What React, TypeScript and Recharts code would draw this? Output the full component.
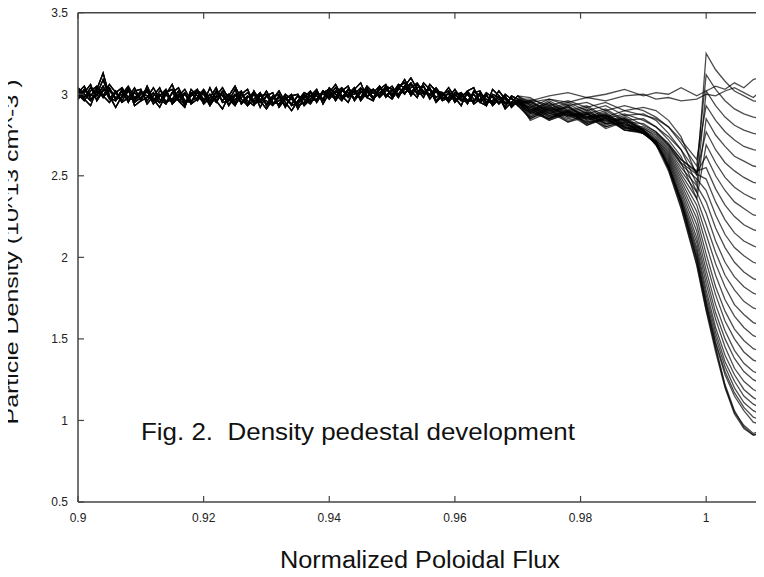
import React from "react";
import { LineChart, Line, XAxis, YAxis } from "recharts";

// x grid of the quiet core region (0.900 .. 0.970)
const FLUX_CORE = [
  0.9, 0.901, 0.902, 0.903, 0.904, 0.905, 0.906, 0.907, 0.908, 0.909,
  0.91, 0.911, 0.912, 0.913, 0.914, 0.915, 0.916, 0.917, 0.918, 0.919,
  0.92, 0.921, 0.922, 0.923, 0.924, 0.925, 0.926, 0.927, 0.928, 0.929,
  0.93, 0.931, 0.932, 0.933, 0.934, 0.935, 0.936, 0.937, 0.938, 0.939,
  0.94, 0.941, 0.942, 0.943, 0.944, 0.945, 0.946, 0.947, 0.948, 0.949,
  0.95, 0.951, 0.952, 0.953, 0.954, 0.955, 0.956, 0.957, 0.958, 0.959,
  0.96, 0.961, 0.962, 0.963, 0.964, 0.965, 0.966, 0.967, 0.968, 0.969,
  0.97,
];

// x grid of the edge / pedestal region
const FLUX_EDGE = [
  0.972, 0.975, 0.978, 0.981, 0.984, 0.987, 0.99, 0.992, 0.994, 0.996,
  0.9985, 1.0, 1.0015, 1.003, 1.0045, 1.006, 1.0075, 1.009, 1.0105,
];

// noisy core profiles (shared by the time slices)
const CORE_A = [
  3.03, 2.98, 3.04, 2.99, 3.05, 2.97, 3.02, 2.96, 3.02, 2.97,
  3.02, 2.96, 3.01, 2.95, 3.02, 2.96, 3.0, 2.95, 3.01, 2.96,
  3.01, 2.95, 3.02, 2.96, 3.0, 2.95, 3.01, 2.94, 3.0, 2.95,
  2.99, 2.94, 2.99, 2.93, 2.98, 2.94, 2.99, 2.95, 3.01, 2.97,
  3.02, 2.98, 3.03, 2.98, 3.02, 2.97, 3.03, 2.98, 3.04, 2.99,
  3.03, 3.0, 3.05, 3.01, 3.06, 3.0, 3.03, 2.98, 3.01, 2.97,
  3.0, 2.96, 3.0, 2.95, 3.01, 2.95, 2.99, 2.94, 2.98, 2.94,
  2.96,
];
const CORE_B = [
  2.98, 3.03, 2.99, 3.04, 2.98, 3.03, 2.97, 3.02, 2.96, 3.01,
  2.97, 3.02, 2.96, 3.0, 2.95, 3.01, 2.96, 3.0, 2.95, 3.01,
  2.96, 3.0, 2.95, 3.01, 2.96, 3.0, 2.95, 2.99, 2.95, 3.0,
  2.94, 2.99, 2.93, 2.98, 2.94, 2.99, 2.94, 2.99, 2.96, 3.02,
  2.97, 3.02, 2.98, 3.03, 2.97, 3.02, 2.98, 3.03, 2.99, 3.04,
  2.99, 3.04, 3.0, 3.06, 3.01, 3.05, 2.99, 3.02, 2.97, 3.01,
  2.96, 3.0, 2.96, 3.0, 2.95, 2.99, 2.95, 2.99, 2.94, 2.98,
  2.93,
];
const CORE_C = [
  3.01, 3.05, 2.97, 3.0, 3.09, 2.98, 2.96, 3.03, 2.95, 3.02,
  3.03, 2.94, 2.99, 3.04, 2.95, 2.97, 3.02, 2.93, 3.0, 3.03,
  2.94, 2.98, 3.04, 2.95, 2.96, 3.03, 2.94, 2.98, 3.01, 2.92,
  2.99, 3.01, 2.92, 2.97, 3.0, 2.91, 2.98, 3.02, 2.95, 3.01,
  3.03, 2.96, 3.02, 3.05, 2.96, 3.01, 3.04, 2.97, 3.03, 3.06,
  2.98, 3.05, 3.07, 2.99, 3.04, 3.05, 2.97, 3.02, 3.01, 2.95,
  3.01, 3.0, 2.94, 3.02, 2.99, 2.93, 3.0, 2.98, 2.92, 2.99,
  2.97,
];
const CORE_D = [
  2.97, 3.01, 3.06, 2.96, 3.02, 3.04, 2.97, 2.98, 3.03, 2.95,
  2.98, 3.02, 2.94, 2.99, 3.03, 2.94, 2.98, 3.01, 2.94, 2.97,
  3.02, 2.94, 2.98, 3.01, 2.93, 2.99, 3.02, 2.93, 2.97, 3.01,
  2.93, 2.98, 3.0, 2.92, 2.99, 3.0, 2.93, 2.97, 3.02, 2.96,
  2.99, 3.04, 2.97, 3.0, 3.04, 2.96, 3.01, 3.03, 2.98, 3.02,
  3.05, 2.99, 3.03, 3.07, 3.0, 3.01, 3.04, 2.96, 3.0, 3.02,
  2.95, 2.99, 3.01, 2.94, 2.97, 3.0, 2.93, 2.97, 2.99, 2.92,
  2.96,
];
const CORE_E = [
  3.02, 2.97, 2.93, 3.03, 3.13, 2.99, 2.92, 2.99, 3.04, 2.93,
  2.96, 3.05, 2.97, 2.92, 3.0, 3.06, 2.96, 2.92, 3.03, 2.99,
  2.95, 3.04, 2.96, 2.91, 2.99, 3.05, 2.97, 2.93, 3.02, 2.96,
  2.91, 2.97, 3.02, 2.95, 2.9, 2.96, 3.01, 2.99, 3.03, 2.94,
  3.01, 3.06, 2.99, 2.95, 3.03, 3.07, 2.98, 2.96, 3.05, 3.0,
  2.97, 3.03, 3.09, 3.02, 2.98, 3.07, 3.03, 2.95, 2.99, 3.04,
  2.98, 2.93, 3.02, 3.04, 2.95, 2.93, 3.03, 2.99, 2.91, 2.95,
  2.99,
];
const CORE_F = [
  3.04, 3.0, 2.96, 3.02, 2.99, 3.06, 3.01, 2.95, 2.98, 3.04,
  2.96, 2.98, 3.04, 2.97, 2.94, 3.01, 3.04, 2.96, 2.95, 3.02,
  3.0, 2.93, 2.99, 3.04, 2.97, 2.93, 3.0, 3.03, 2.94, 2.96,
  3.02, 2.95, 2.94, 3.0, 2.97, 2.93, 2.95, 3.01, 2.99, 2.97,
  3.04, 3.0, 2.96, 3.03, 3.01, 2.98, 3.05, 3.01, 2.99, 3.05,
  3.03, 2.98, 3.05, 3.1, 3.03, 2.98, 3.06, 3.02, 2.96, 2.98,
  3.03, 2.97, 2.95, 3.01, 3.02, 2.95, 2.96, 3.02, 2.97, 2.93,
  2.95,
];
const CORE_G = [
  3.0, 2.96, 3.02, 3.05, 2.99, 2.95, 3.01, 3.04, 2.98, 2.96,
  3.0, 3.03, 2.97, 2.95, 3.01, 3.03, 2.97, 2.94, 2.99, 3.02,
  2.97, 2.96, 3.01, 2.99, 2.94, 2.97, 3.0, 2.96, 2.93, 2.99,
  3.0, 2.94, 2.96, 2.99, 2.93, 2.95, 3.0, 2.96, 2.97, 3.02,
  3.0, 2.97, 3.02, 3.01, 2.97, 3.03, 3.02, 2.97, 3.01, 3.03,
  3.0, 3.06, 3.04, 3.0, 3.06, 3.02, 2.99, 3.03, 2.98, 2.96,
  2.99, 3.01, 2.96, 2.96, 3.0, 2.97, 2.94, 2.99, 2.95, 2.95,
  2.94,
];
const CORE_H = [
  2.99, 3.02, 3.0, 2.97, 3.03, 3.02, 2.98, 3.0, 3.05, 2.98,
  3.01, 2.99, 2.96, 3.02, 3.0, 2.95, 2.99, 3.03, 2.96, 2.98,
  3.03, 2.97, 2.96, 3.02, 2.99, 2.94, 2.98, 3.01, 2.96, 2.97,
  2.96, 2.93, 2.98, 2.97, 2.94, 2.99, 2.97, 2.94, 3.0, 3.0,
  2.98, 3.01, 3.04, 2.99, 3.0, 3.04, 2.99, 3.01, 3.05, 2.98,
  3.02, 3.04, 3.01, 3.04, 3.07, 3.01, 3.0, 3.04, 2.99, 3.0,
  2.97, 2.98, 3.02, 2.97, 2.96, 3.01, 2.98, 2.95, 3.0, 2.97,
  2.96,
];

// edge profiles, one per time slice, early -> late
const EDGE_00 = [2.96, 2.99, 3.01, 2.98, 3.0, 3.03, 2.99, 3.01, 3.0, 3.04, 2.99, 3.02, 3.05, 3.03, 3.07, 3.04, 3.09, 3.11, 3.1];
const EDGE_01 = [2.95, 2.97, 2.95, 2.98, 2.96, 2.99, 3.0, 2.97, 2.98, 2.96, 2.97, 3.0, 2.99, 3.02, 3.04, 3.01, 2.98, 3.03, 3.06];
const EDGE_02 = [2.97, 2.93, 2.96, 2.92, 2.95, 2.9, 2.92, 2.9, 2.84, 2.74, 2.5, 3.25, 3.15, 3.08, 3.02, 2.99, 2.96, 2.95, 2.97];
const EDGE_03 = [2.92, 2.97, 2.93, 2.95, 2.9, 2.93, 2.9, 2.86, 2.8, 2.7, 2.56, 3.12, 3.03, 2.96, 2.91, 2.88, 2.86, 2.85, 2.84];
const EDGE_04 = [2.98, 2.91, 2.95, 2.9, 2.93, 2.87, 2.88, 2.84, 2.76, 2.66, 2.45, 3.02, 2.93, 2.86, 2.81, 2.78, 2.76, 2.75, 2.73];
const EDGE_05 = [2.9, 2.96, 2.9, 2.93, 2.86, 2.9, 2.87, 2.85, 2.8, 2.72, 2.6, 2.93, 2.84, 2.77, 2.72, 2.68, 2.66, 2.65, 2.63];
const EDGE_06 = [2.96, 2.9, 2.94, 2.88, 2.91, 2.84, 2.85, 2.8, 2.72, 2.62, 2.4, 2.85, 2.75, 2.68, 2.62, 2.59, 2.56, 2.55, 2.53];
const EDGE_07 = [2.9, 2.95, 2.89, 2.92, 2.85, 2.88, 2.84, 2.8, 2.74, 2.66, 2.52, 2.77, 2.66, 2.58, 2.53, 2.49, 2.46, 2.45, 2.43];
const EDGE_08 = [2.95, 2.89, 2.93, 2.86, 2.9, 2.83, 2.82, 2.77, 2.69, 2.58, 2.36, 2.69, 2.58, 2.49, 2.43, 2.39, 2.36, 2.35, 2.33];
const EDGE_09 = [2.89, 2.94, 2.88, 2.91, 2.83, 2.87, 2.81, 2.77, 2.7, 2.6, 2.52, 2.62, 2.5, 2.41, 2.34, 2.3, 2.26, 2.25, 2.23];
const EDGE_10 = [2.94, 2.88, 2.92, 2.85, 2.89, 2.81, 2.8, 2.76, 2.69, 2.6, 2.53, 2.55, 2.42, 2.32, 2.25, 2.2, 2.17, 2.15, 2.13];
const EDGE_11 = [2.88, 2.93, 2.87, 2.9, 2.82, 2.86, 2.79, 2.75, 2.68, 2.58, 2.51, 2.48, 2.34, 2.23, 2.15, 2.1, 2.07, 2.05, 2.03];
const EDGE_12 = [2.93, 2.87, 2.91, 2.84, 2.88, 2.8, 2.79, 2.74, 2.67, 2.57, 2.48, 2.41, 2.26, 2.14, 2.06, 2.01, 1.97, 1.95, 1.93];
const EDGE_13 = [2.87, 2.92, 2.86, 2.89, 2.81, 2.85, 2.78, 2.73, 2.66, 2.55, 2.44, 2.34, 2.18, 2.06, 1.97, 1.91, 1.87, 1.85, 1.83];
const EDGE_14 = [2.92, 2.86, 2.9, 2.83, 2.87, 2.79, 2.78, 2.72, 2.65, 2.53, 2.4, 2.27, 2.1, 1.97, 1.88, 1.82, 1.78, 1.76, 1.74];
const EDGE_15 = [2.86, 2.91, 2.85, 2.88, 2.8, 2.84, 2.77, 2.72, 2.64, 2.51, 2.36, 2.2, 2.03, 1.89, 1.8, 1.73, 1.69, 1.67, 1.65];
const EDGE_16 = [2.91, 2.85, 2.89, 2.82, 2.86, 2.78, 2.77, 2.71, 2.63, 2.49, 2.32, 2.14, 1.96, 1.82, 1.71, 1.65, 1.6, 1.58, 1.56];
const EDGE_17 = [2.85, 2.9, 2.84, 2.87, 2.79, 2.83, 2.76, 2.71, 2.62, 2.47, 2.28, 2.08, 1.89, 1.74, 1.64, 1.57, 1.52, 1.5, 1.48];
const EDGE_18 = [2.9, 2.84, 2.88, 2.81, 2.85, 2.78, 2.76, 2.7, 2.61, 2.45, 2.24, 2.02, 1.82, 1.67, 1.56, 1.49, 1.44, 1.42, 1.41];
const EDGE_19 = [2.84, 2.89, 2.83, 2.86, 2.8, 2.83, 2.76, 2.7, 2.6, 2.43, 2.2, 1.97, 1.77, 1.61, 1.5, 1.42, 1.37, 1.35, 1.34];
const EDGE_20 = [2.89, 2.85, 2.9, 2.81, 2.86, 2.78, 2.77, 2.69, 2.59, 2.41, 2.16, 1.92, 1.71, 1.55, 1.43, 1.35, 1.3, 1.28, 1.27];
const EDGE_21 = [2.92, 2.84, 2.89, 2.83, 2.84, 2.8, 2.76, 2.7, 2.58, 2.39, 2.12, 1.88, 1.66, 1.5, 1.38, 1.3, 1.25, 1.22, 1.22];
const EDGE_22 = [2.85, 2.91, 2.83, 2.88, 2.82, 2.82, 2.78, 2.69, 2.57, 2.37, 2.09, 1.84, 1.62, 1.45, 1.32, 1.24, 1.19, 1.16, 1.17];
const EDGE_23 = [2.91, 2.85, 2.9, 2.82, 2.85, 2.79, 2.77, 2.7, 2.56, 2.36, 2.06, 1.8, 1.57, 1.4, 1.28, 1.19, 1.14, 1.11, 1.12];
const EDGE_24 = [2.93, 2.86, 2.88, 2.85, 2.87, 2.8, 2.76, 2.71, 2.55, 2.35, 2.04, 1.77, 1.54, 1.36, 1.24, 1.15, 1.1, 1.07, 1.09];
const EDGE_25 = [2.86, 2.92, 2.87, 2.88, 2.82, 2.85, 2.78, 2.7, 2.56, 2.34, 2.02, 1.74, 1.51, 1.33, 1.2, 1.11, 1.06, 1.03, 1.05];
const EDGE_26 = [2.94, 2.87, 2.89, 2.86, 2.87, 2.8, 2.77, 2.71, 2.55, 2.34, 2.0, 1.72, 1.48, 1.3, 1.17, 1.08, 1.02, 1.0, 1.02];
const EDGE_27 = [2.88, 2.93, 2.86, 2.88, 2.84, 2.85, 2.78, 2.7, 2.56, 2.33, 1.99, 1.71, 1.47, 1.28, 1.15, 1.06, 0.99, 0.97, 0.99];
const EDGE_28 = [2.95, 2.9, 2.92, 2.86, 2.88, 2.81, 2.77, 2.7, 2.55, 2.33, 1.98, 1.7, 1.45, 1.22, 1.06, 0.96, 0.91, 0.93, 0.97];
const EDGE_29 = [2.89, 2.95, 2.87, 2.89, 2.85, 2.84, 2.78, 2.69, 2.53, 2.3, 1.95, 1.67, 1.42, 1.2, 1.04, 0.95, 0.91, 0.92, 0.96];
const EDGE_30 = [2.96, 2.88, 2.93, 2.84, 2.87, 2.82, 2.76, 2.71, 2.54, 2.31, 1.96, 1.68, 1.44, 1.21, 1.05, 0.97, 0.92, 0.94, 0.98];

const CORES = [CORE_A, CORE_B, CORE_C, CORE_D, CORE_E, CORE_F, CORE_G, CORE_H];
const EDGES = [
  EDGE_00, EDGE_01, EDGE_02, EDGE_03, EDGE_04, EDGE_05, EDGE_06, EDGE_07,
  EDGE_08, EDGE_09, EDGE_10, EDGE_11, EDGE_12, EDGE_13, EDGE_14, EDGE_15,
  EDGE_16, EDGE_17, EDGE_18, EDGE_19, EDGE_20, EDGE_21, EDGE_22, EDGE_23,
  EDGE_24, EDGE_25, EDGE_26, EDGE_27, EDGE_28, EDGE_29, EDGE_30,
];

const X_TICKS = [0.9, 0.92, 0.94, 0.96, 0.98, 1];
const Y_TICKS = [0.5, 1, 1.5, 2, 2.5, 3, 3.5];

const FONT = "'Liberation Sans', Arial, Helvetica, sans-serif";
const AXIS = "#444";

const series = EDGES.map((edge, k) => {
  const core = CORES[k % CORES.length];
  return [
    ...FLUX_CORE.map((x, i) => ({ x, y: core[i] })),
    ...FLUX_EDGE.map((x, i) => ({ x, y: edge[i] })),
  ];
});

export default function App() {
  return (
    // pulled over the body margin so the page corner is (0,0)
    <div style={{ position: "relative", width: 764, height: 577, margin: "-8px 0 0 -8px", overflow: "hidden", background: "#fff" }}>
      <LineChart width={778} height={577} margin={{ top: 11.7, right: 8, bottom: 45, left: 8 }}>
        <XAxis
          xAxisId="bottom"
          type="number"
          dataKey="x"
          domain={[0.9, 1.01]}
          allowDataOverflow
          ticks={X_TICKS}
          height={30}
          tickSize={-6}
          tickMargin={17}
          axisLine={{ stroke: AXIS, strokeWidth: 1.5 }}
          tickLine={{ stroke: AXIS, strokeWidth: 1.2 }}
          tick={{ fill: "#222", fontSize: 12, fontFamily: FONT }}
        />
        <XAxis
          xAxisId="top"
          orientation="top"
          type="number"
          dataKey="x"
          domain={[0.9, 1.01]}
          allowDataOverflow
          ticks={X_TICKS}
          height={1}
          tickSize={-6}
          tickFormatter={() => ""}
          axisLine={{ stroke: AXIS, strokeWidth: 1.5 }}
          tickLine={{ stroke: AXIS, strokeWidth: 1.2 }}
        />
        <YAxis
          yAxisId="left"
          type="number"
          domain={[0.5, 3.5]}
          allowDataOverflow
          ticks={Y_TICKS}
          width={70}
          tickSize={-6}
          tickMargin={16}
          axisLine={{ stroke: AXIS, strokeWidth: 1.5 }}
          tickLine={{ stroke: AXIS, strokeWidth: 1.2 }}
          tick={{ fill: "#222", fontSize: 12, fontFamily: FONT }}
        />
        <YAxis
          yAxisId="right"
          orientation="right"
          type="number"
          domain={[0.5, 3.5]}
          allowDataOverflow
          ticks={Y_TICKS}
          width={1}
          tickSize={-6}
          tickFormatter={() => ""}
          axisLine={{ stroke: AXIS, strokeWidth: 1.5 }}
          tickLine={{ stroke: AXIS, strokeWidth: 1.2 }}
        />
        {series.map((data, k) => (
          <Line
            key={k}
            xAxisId="bottom"
            yAxisId="left"
            data={data}
            dataKey="y"
            type="linear"
            stroke="#000"
            strokeOpacity={0.7}
            strokeWidth={1.3}
            dot={false}
            activeDot={false}
            isAnimationActive={false}
          />
        ))}
      </LineChart>
      <svg
        width={764}
        height={577}
        style={{ position: "absolute", left: 0, top: 0, pointerEvents: "none" }}
      >
        <text
          transform="translate(17.5,252) rotate(-90)"
          textAnchor="middle"
          fontFamily={FONT}
          fontSize={18.5}
          fill="#111"
          textLength={345}
          lengthAdjust="spacingAndGlyphs"
        >
          Particle Density (10^13 cm^-3 )
        </text>
        <text
          x={420}
          y={568}
          textAnchor="middle"
          fontFamily={FONT}
          fontSize={23}
          fill="#111"
          textLength={280}
          lengthAdjust="spacingAndGlyphs"
        >
          Normalized Poloidal Flux
        </text>
        <text
          x={141}
          y={440}
          fontFamily={FONT}
          fontSize={24.5}
          fill="#111"
          textLength={434}
          lengthAdjust="spacingAndGlyphs"
          style={{ whiteSpace: "pre" }}
        >
          {"Fig. 2.  Density pedestal development"}
        </text>
      </svg>
    </div>
  );
}
